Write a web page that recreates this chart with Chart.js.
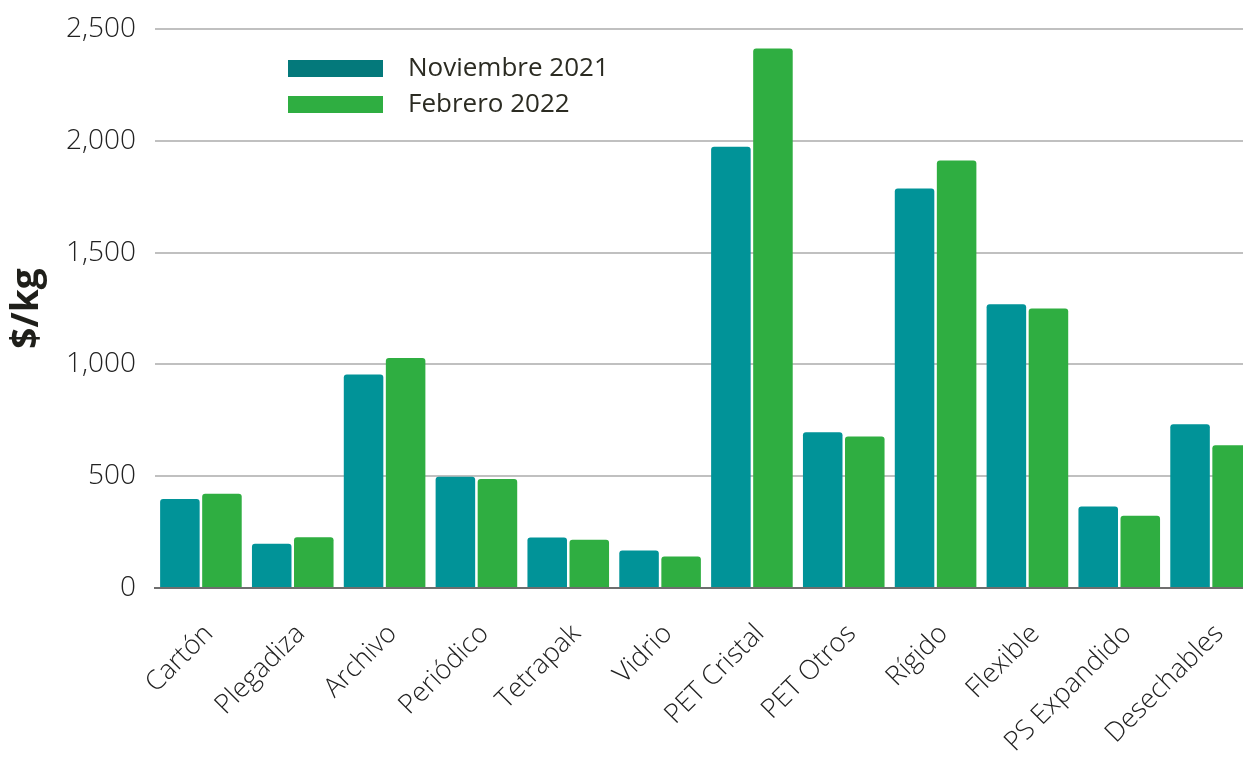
<!DOCTYPE html>
<html>
<head>
<meta charset="utf-8">
<script src="https://cdn.jsdelivr.net/npm/chart.js@4/dist/chart.umd.min.js"></script>
<style>
  html, body { margin: 0; padding: 0; background: #ffffff; overflow: hidden; }
  #wrap { width: 1257px; height: 758px; position: relative; }
</style>
</head>
<body>
<div id="wrap"><canvas id="c" width="1257" height="758"></canvas></div>
<script>
const categories = ["Cartón", "Plegadiza", "Archivo", "Periódico", "Tetrapak", "Vidrio",
  "PET Cristal", "PET Otros", "Rígido", "Flexible", "PS Expandido", "Desechables"];
const seriesNames = ["Noviembre 2021", "Febrero 2022"];
const nov2021 = [398, 198, 955, 498, 226, 168, 1973, 697, 1787, 1269, 365, 732];
const feb2022 = [422, 227, 1029, 487, 216, 141, 2413, 678, 1912, 1250, 323, 638];
const yTicks = [0, 500, 1000, 1500, 2000, 2500];

const barColors = ["#019398", "#2fae41"];
const swatchColors = ["#04797b", "#2fae41"];

const legendPlugin = {
  id: 'innerLegend',
  afterDraw(chart) {
    const ctx = chart.ctx;
    const area = chart.chartArea;
    ctx.save();
    chart.data.datasets.forEach((ds, i) => {
      const x = area.left + 133;
      const y = area.top + 39 + i * 36;
      ctx.fillStyle = swatchColors[i];
      ctx.fillRect(x, y - 8, 95, 17);
      ctx.fillStyle = "#2b2b22";
      ctx.font = "400 26px 'Open Sans'";
      ctx.textBaseline = "middle";
      ctx.textAlign = "left";
      ctx.fillText(ds.label, x + 120, y + 1);
    });
    ctx.restore();
  }
};

new Chart(document.getElementById('c'), {
  type: 'bar',
  data: {
    labels: categories,
    datasets: [
      { label: seriesNames[0], data: nov2021, backgroundColor: barColors[0] },
      { label: seriesNames[1], data: feb2022, backgroundColor: barColors[1] }
    ]
  },
  options: {
    responsive: false,
    animation: false,
    devicePixelRatio: 1,
    layout: { padding: { top: 29, right: 0, left: 0, bottom: 0 } },
    datasets: { bar: { categoryPercentage: 0.916, barPercentage: 0.94, borderRadius: 3, borderSkipped: 'bottom' } },
    plugins: {
      legend: { display: false },
      tooltip: { enabled: false }
    },
    scales: {
      x: {
        grid: { display: false, drawTicks: false },
        border: { display: true, color: '#6e6e6e', width: 2 },
        ticks: {
          color: '#222222',
          font: { family: 'Open Sans', size: 27, weight: 300 },
          maxRotation: 45, minRotation: 45, padding: 30, labelOffset: 8
        },
        afterFit(scale) { scale.height = 170; scale.paddingLeft = 0; scale.paddingRight = 0; }
      },
      y: {
        min: 0, max: 2500,
        afterBuildTicks(scale) { scale.ticks = yTicks.map(v => ({ value: v })); },
        grid: { color: '#c0c0c0', lineWidth: 2, drawTicks: false },
        border: { display: false },
        ticks: {
          color: '#222222',
          font: { family: 'Open Sans', size: 28, weight: 300 },
          padding: 19,
          callback: v => v.toLocaleString('en-US')
        },
        title: {
          display: true, text: '$/kg', color: '#1f1f1a',
          font: { family: 'Open Sans', size: 37, weight: 'bold' },
          padding: { top: 5, bottom: 0 }
        },
        afterFit(scale) { scale.width = 155; scale.paddingTop = 0; scale.paddingBottom = 0; }
      }
    }
  },
  plugins: [legendPlugin]
});
</script>
</body>
</html>
